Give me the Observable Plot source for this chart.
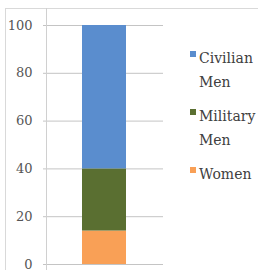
<!DOCTYPE html>
<html><head><meta charset="utf-8">
<script src="https://cdn.jsdelivr.net/npm/d3@7"></script>
<script src="https://cdn.jsdelivr.net/npm/@observablehq/plot@0.6"></script>
<style>
body{margin:0;background:#fff;}
#wrap{position:relative;width:258px;height:270px;overflow:hidden;background:#fff;}
#frame{position:absolute;left:5px;top:8px;width:300px;height:300px;border-left:1px solid #d9d9d9;border-top:1px solid #d9d9d9;}
#chart{position:absolute;left:0;top:0;}
#legend{position:absolute;left:190px;top:46px;font-family:"DejaVu Serif",serif;font-size:14px;color:#404040;line-height:24px;}
.item{position:relative;padding-left:9px;margin-bottom:10px;}
.sw{position:absolute;left:0;top:5px;width:6px;height:6px;}
</style></head>
<body><div id="wrap"><div id="frame"></div><div id="chart"></div><div id="legend"></div></div>
<script>
const categories = ["Group"];
const series = ["Women", "Military Men", "Civilian Men"];
const values = [14, 26, 60];
const colors = ["#f9a056", "#5a6f31", "#5a8dce"];
const legendLabels = [["Civilian","Men"],["Military","Men"],["Women"]];
const legendColors = ["#5a8dce", "#5a6f31", "#f9a056"];
const yTicks = [0, 20, 40, 60, 80, 100];

const data = series.map((s, i) => ({cat: categories[0], series: s, value: values[i]}));

const plot = Plot.plot({
  width: 170, height: 270,
  marginTop: 25, marginBottom: 6, marginLeft: 46, marginRight: 7,
  style: {fontFamily: "'DejaVu Serif',serif", fontSize: "13px", color: "#595959", background: "transparent"},
  x: {type: "band", domain: categories, padding: 0.445, axis: null},
  y: {domain: [0, 100], ticks: yTicks, label: null},
  color: {domain: series, range: colors},
  marks: [
    Plot.ruleY(yTicks, {stroke: "#c4c4c4"}),
    Plot.barY(data, Plot.stackY({x: "cat", y: "value", fill: "series", order: series})),
    Plot.axisY(yTicks, {tickSize: 3, tickPadding: 11, stroke: "#c4c4c4", strokeOpacity: 1, fill: "#555", fontSize: 13})
  ]
});
document.getElementById("chart").appendChild(plot);
d3.select(plot).append("line").attr("x1", 46.5).attr("x2", 46.5).attr("y1", 8).attr("y2", 270).attr("stroke", "#d0d0d0");

const leg = document.getElementById("legend");
legendLabels.forEach((lines, i) => {
  const d = document.createElement("div");
  d.className = "item";
  d.innerHTML = `<span class="sw" style="background:${legendColors[i]}"></span>` + lines.join("<br>");
  leg.appendChild(d);
});
</script></body></html>
